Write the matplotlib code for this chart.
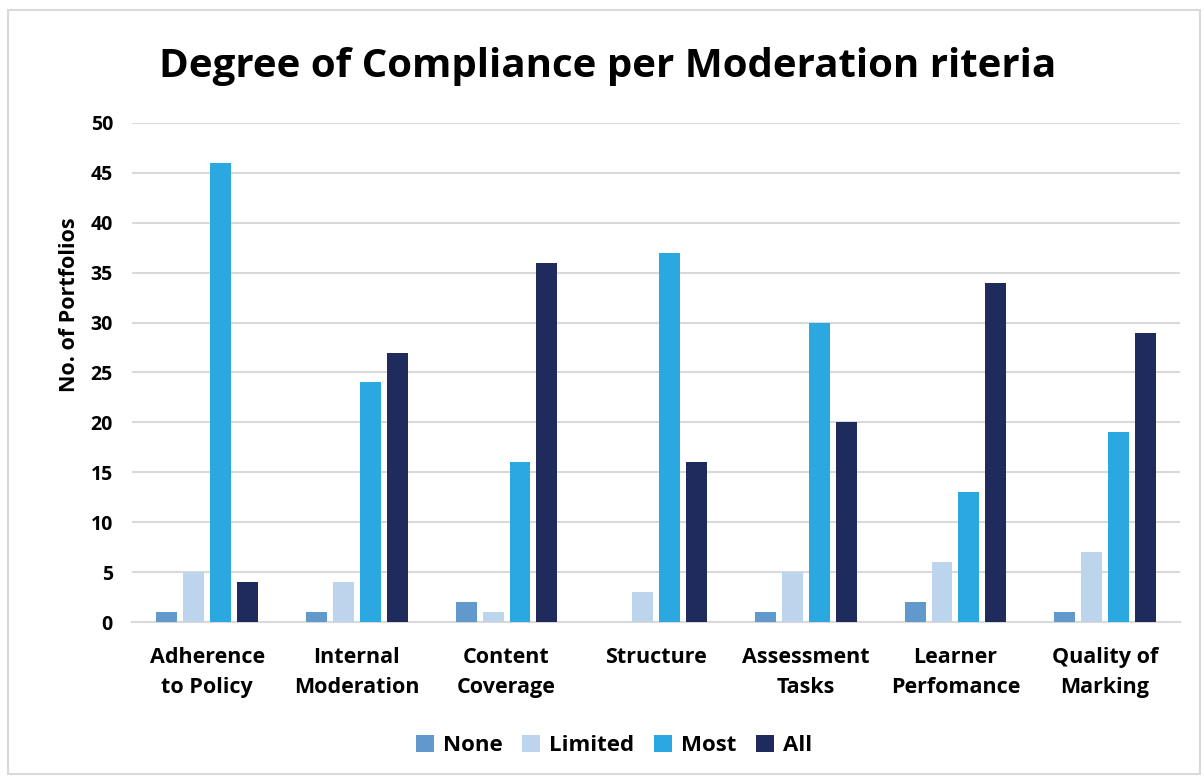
import numpy as np
import matplotlib.pyplot as plt

plt.rcParams['font.family'] = ['Open Sans', 'DejaVu Sans']

categories = ['Adherence\nto Policy', 'Internal\nModeration', 'Content\nCoverage',
              'Structure', 'Assessment\nTasks', 'Learner\nPerfomance', 'Quality of\nMarking']
series = ['None', 'Limited', 'Most', 'All']
none_vals = [1, 1, 2, 0, 1, 2, 1]
limited_vals = [5, 4, 1, 3, 5, 6, 7]
most_vals = [46, 24, 16, 37, 30, 13, 19]
all_vals = [4, 27, 36, 16, 20, 34, 29]
colors = ['#6199CC', '#BDD5EC', '#2AA8DF', '#1F2B5C']

fig = plt.figure(figsize=(12.04, 7.78), dpi=100)
ax = fig.add_axes([0.110, 0.2005, 0.870, 0.6415])

x = np.arange(len(categories))
pitch = 0.18
width = 0.14
for i, (name, vals) in enumerate(zip(series, [none_vals, limited_vals, most_vals, all_vals])):
    ax.bar(x + (i - 1.5) * pitch, vals, width, color=colors[i], label=name, zorder=3)

ax.set_xlim(-0.5, len(categories) - 0.5)
ax.set_ylim(0, 50)
ax.set_yticks(np.arange(0, 51, 5))
ax.yaxis.grid(True, color='#D9D9D9', linewidth=1.5, zorder=0)
for s in ['top', 'right', 'left']:
    ax.spines[s].set_visible(False)
ax.spines['bottom'].set_color('#D9D9D9')
ax.spines['bottom'].set_linewidth(1.5)
ax.tick_params(axis='both', length=0)
ax.tick_params(axis='y', pad=14)
ax.tick_params(axis='x', pad=18)
ax.set_xticks(x)
ax.set_xticklabels(categories, fontsize=15.5, fontweight='bold', linespacing=1.55)
for lbl in ax.get_yticklabels():
    lbl.set_fontsize(14)
    lbl.set_fontweight('bold')
ax.set_ylabel('No. of Portfolios', fontsize=15.5, fontweight='bold', labelpad=2)
ax.yaxis.set_label_coords(-0.05, 0.635)

fig.text(0.505, 0.915, 'Degree of Compliance per Moderation riteria', ha='center', va='center',
         fontsize=29, fontweight='bold')

ax.legend(loc='center', bbox_to_anchor=(0.51, 0.042), bbox_transform=fig.transFigure, ncol=4,
          frameon=False, prop={'size': 16, 'weight': 'bold'}, handlelength=0.8, handleheight=0.8,
          handletextpad=0.4, columnspacing=0.9)

border = plt.Rectangle((0.007, 0.005), 0.99, 0.982, transform=fig.transFigure, fill=False,
                       edgecolor='#D9D9D9', linewidth=1.5)
fig.patches.append(border)

plt.savefig('out.png', dpi=100)
